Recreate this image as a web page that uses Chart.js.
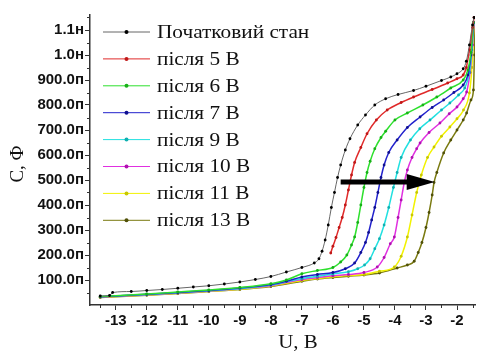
<!DOCTYPE html>
<html>
<head>
<meta charset="utf-8">
<script src="https://cdn.jsdelivr.net/npm/chart.js@4"></script>
<style>
  html, body { margin: 0; padding: 0; background: #fff; }
  canvas { display: block; }
</style>
</head>
<body>
<canvas id="cvChart" width="479" height="354"></canvas>
<script>
// values in pF, voltage in V
const xTicks = [-13, -12, -11, -10, -9, -8, -7, -6, -5, -4, -3, -2];
const yTicks = [100, 200, 300, 400, 500, 600, 700, 800, 900, 1000, 1100];

const labels = ["Початковий стан", "після 5 В", "після 6 В", "після 7 В",
  "після 9 В", "після 10 В", "після 11 В", "після 13 В"];

const initialData = [[-13.5,36],[-13.2,38],[-13.1,50],[-12.5,54],[-12,58],[-11.5,62],[-11,67],
  [-10.5,72],[-10,77],[-9.5,84],[-9,92],[-8.5,102],[-8,114],[-7.5,132],[-7,150],[-6.6,168],
  [-6.45,185],[-6.35,215],[-6.25,260],[-6.15,320],[-6.05,390],[-5.95,450],[-5.85,510],
  [-5.75,560],[-5.6,620],[-5.45,665],[-5.2,720],[-4.95,760],[-4.65,800],[-4.3,825],
  [-3.9,842],[-3.4,858],[-3.0,875],[-2.5,898],[-2.2,912],[-2.0,925],[-1.8,945],[-1.7,975],
  [-1.6,1040],[-1.5,1120],[-1.45,1150]];
const after5Data = [[-6.07,208],[-6.0,235],[-5.9,270],[-5.8,310],[-5.7,350],[-5.6,400],
  [-5.5,460],[-5.4,520],[-5.3,570],[-5.1,630],[-4.9,685],[-4.6,740],[-4.25,780],[-3.8,810],
  [-3.4,832],[-2.8,862],[-2.3,888],[-2.0,905],[-1.8,920],[-1.7,950],[-1.6,1020],[-1.5,1110],
  [-1.45,1150]];
const after6Data = [[-13.5,34],[-12,44],[-11,52],[-10,60],[-9,70],[-8,85],[-7.5,100],[-7,125],
  [-6.5,138],[-6,150],[-5.75,172],[-5.55,200],[-5.4,240],[-5.3,272],[-5.2,330],[-5.1,400],
  [-5.0,470],[-4.9,530],[-4.8,575],[-4.65,625],[-4.45,670],[-4.3,695],[-4.0,740],[-3.6,768],
  [-3.1,800],[-2.65,832],[-2.2,868],[-1.8,900],[-1.65,940],[-1.55,1010],[-1.47,1130]];
const after7Data = [[-13.5,33],[-12,43],[-11,50],[-10,58],[-9,68],[-8,82],[-7.5,95],[-7,112],
  [-6.5,122],[-6,130],[-5.6,145],[-5.3,168],[-5.1,210],[-4.95,250],[-4.85,290],[-4.75,340],
  [-4.65,390],[-4.55,450],[-4.45,510],[-4.35,560],[-4.2,610],[-3.93,660],[-3.6,710],
  [-3.19,752],[-2.8,790],[-2.43,820],[-2.1,850],[-1.8,880],[-1.65,920],[-1.55,1000],
  [-1.47,1130]];
const after9Data = [[-13.5,33],[-12,42],[-11,49],[-10,57],[-9,66],[-8,80],[-7,106],[-6.5,115],
  [-6,124],[-5.5,133],[-5.2,145],[-4.98,160],[-4.8,185],[-4.65,225],[-4.5,265],[-4.35,320],
  [-4.2,390],[-4.05,470],[-3.93,530],[-3.8,590],[-3.5,660],[-3.2,705],[-2.87,740],[-2.5,780],
  [-2.23,808],[-1.95,840],[-1.75,868],[-1.6,930],[-1.52,1020],[-1.46,1130]];
const after10Data = [[-13.5,32],[-12,41],[-11,48],[-10,56],[-9,65],[-8,78],[-7,102],[-6.5,110],
  [-6,117],[-5.5,122],[-5,130],[-4.57,152],[-4.35,190],[-4.15,245],[-4.02,272],[-3.9,350],
  [-3.8,420],[-3.7,490],[-3.6,540],[-3.45,590],[-3.3,625],[-3.19,648],[-2.9,690],[-2.55,728],
  [-2.25,765],[-2.0,792],[-1.8,825],[-1.69,852],[-1.58,930],[-1.5,1040],[-1.45,1130]];
const after11Data = [[-13.5,31],[-12,40],[-11,47],[-10,55],[-9,63],[-8,76],[-7,98],[-6.5,106],
  [-6,113],[-5.5,118],[-4.98,122],[-4.5,135],[-4.02,152],[-3.8,195],[-3.6,272],[-3.45,360],
  [-3.3,450],[-3.15,520],[-2.95,590],[-2.74,632],[-2.5,675],[-2.23,712],[-2.0,745],
  [-1.79,780],[-1.6,848],[-1.52,950],[-1.46,1110]];
const after13Data = [[-13.5,30],[-12,39],[-11,46],[-10,54],[-9,62],[-8,74],[-7,95],[-6.5,104],
  [-6,110],[-5.5,115],[-5,120],[-4.5,128],[-3.93,148],[-3.6,160],[-3.38,175],[-3.25,210],
  [-3.13,250],[-3.0,310],[-2.9,370],[-2.8,440],[-2.74,490],[-2.65,530],[-2.43,608],
  [-2.2,660],[-2.0,700],[-1.8,740],[-1.69,768],[-1.55,820],[-1.47,860],[-1.44,1000],
  [-1.42,1130]];

const seriesData = [initialData, after5Data, after6Data, after7Data,
  after9Data, after10Data, after11Data, after13Data];
const lineColors = ["#666666", "#e02a2a", "#2ee02e", "#2222cc", "#22e0e0", "#e030e0", "#f2f200", "#7a7a10"];
const dotColors  = ["#000000", "#c01818", "#18b018", "#101090", "#10b0b0", "#b010b0", "#c8c800", "#505008"];

// shift arrow (x from, x to, level in pF)
const arrowFrom = -5.75, arrowTo = -2.72, arrowLevel = 492;

const serif = '"Liberation Serif", "Times New Roman", serif';
const sans = '"Liberation Sans", Arial, sans-serif';

function fmtCap(v) {
  return v >= 1000 ? (v / 1000).toFixed(1) + "н" : v.toFixed(1) + "п";
}

// text looks a bit stretched wide in the original
function wideText(ctx, txt, x, y, k) {
  ctx.save();
  ctx.translate(x, y);
  ctx.scale(k, 1);
  ctx.fillText(txt, 0, 0);
  ctx.restore();
}

let extras = {
  id: "extras",
  afterDraw(chart) {
    const ctx = chart.ctx;
    const area = chart.chartArea;
    const xs = chart.scales.x, ys = chart.scales.y;
    ctx.save();

    // minor ticks
    ctx.strokeStyle = "#333";
    ctx.lineWidth = 1;
    ctx.beginPath();
    for (let v = -13.5; v <= -1.5; v += 1) {
      let px = Math.round(xs.getPixelForValue(v)) + 0.5;
      ctx.moveTo(px, area.bottom);
      ctx.lineTo(px, area.bottom + 3);
    }
    for (let v = 50; v <= 1150; v += 100) {
      let py = Math.round(ys.getPixelForValue(v)) + 0.5;
      ctx.moveTo(area.left, py);
      ctx.lineTo(area.left - 3, py);
    }
    ctx.stroke();

    // legend
    ctx.textBaseline = "middle";
    ctx.textAlign = "left";
    ctx.font = "19px " + serif;
    labels.forEach((lab, i) => {
      let y = area.top + 17 + i * 26.9;
      ctx.strokeStyle = lineColors[i];
      ctx.lineWidth = 1;
      ctx.beginPath();
      ctx.moveTo(103, y);
      ctx.lineTo(150, y);
      ctx.stroke();
      ctx.fillStyle = dotColors[i];
      ctx.beginPath();
      ctx.arc(126.5, y, 2, 0, Math.PI * 2);
      ctx.fill();
      ctx.fillStyle = "#111";
      wideText(ctx, lab, 157, y + 1, 1.12);
    });

    // arrow
    let ax1 = xs.getPixelForValue(arrowFrom), ax2 = xs.getPixelForValue(arrowTo);
    let ay = ys.getPixelForValue(arrowLevel);
    ctx.fillStyle = "#000";
    ctx.fillRect(ax1, ay - 2.5, ax2 - 27 - ax1, 5);
    ctx.beginPath();
    ctx.moveTo(ax2 - 28, ay - 8);
    ctx.lineTo(ax2, ay);
    ctx.lineTo(ax2 - 28, ay + 8);
    ctx.closePath();
    ctx.fill();

    // axis titles
    ctx.fillStyle = "#111";
    ctx.font = "19px " + serif;
    ctx.textAlign = "center";
    wideText(ctx, "U, В", 298, 343, 1.1);
    ctx.translate(18, 164);
    ctx.rotate(-Math.PI / 2);
    ctx.fillText("С, Ф", 0, 0);
    ctx.restore();
  },
};

let datasets = seriesData.map((d, i) => ({
  label: labels[i],
  data: d.map((p) => ({ x: p[0], y: p[1] })),
  borderColor: lineColors[i],
  backgroundColor: dotColors[i],
  pointBackgroundColor: dotColors[i],
  pointBorderWidth: 0,
  pointRadius: 1.4,
  borderWidth: i === 0 ? 1 : 1.5,
  cubicInterpolationMode: "monotone",
  showLine: true,
}));

new Chart(document.getElementById("cvChart"), {
  type: "scatter",
  data: { datasets },
  options: {
    responsive: false,
    devicePixelRatio: 1,
    animation: false,
    layout: { padding: { left: 0, right: 1, top: 15, bottom: 0 } },
    plugins: { legend: { display: false }, tooltip: { enabled: false } },
    scales: {
      x: {
        type: "linear",
        min: -13.83,
        max: -1.42,
        afterBuildTicks: (s) => { s.ticks = xTicks.map((v) => ({ value: v })); },
        afterFit: (s) => { s.height = 49; },
        border: { color: "#333", width: 1.5 },
        grid: { drawOnChartArea: false, tickLength: 5, tickColor: "#333" },
        ticks: {
          padding: 2,
          color: "#111",
          font: { family: sans, size: 15, weight: "bold" },
          callback: (v) => v,
        },
      },
      y: {
        min: 0,
        max: 1160,
        afterBuildTicks: (s) => { s.ticks = yTicks.map((v) => ({ value: v })); },
        afterFit: (s) => { s.width = 90; },
        border: { color: "#333", width: 1.5 },
        grid: { drawOnChartArea: false, tickLength: 5, tickColor: "#333" },
        ticks: {
          padding: 1,
          color: "#111",
          font: { family: sans, size: 15, weight: "bold" },
          callback: (v) => fmtCap(v),
        },
      },
    },
  },
  plugins: [extras],
});
</script>
</body>
</html>
